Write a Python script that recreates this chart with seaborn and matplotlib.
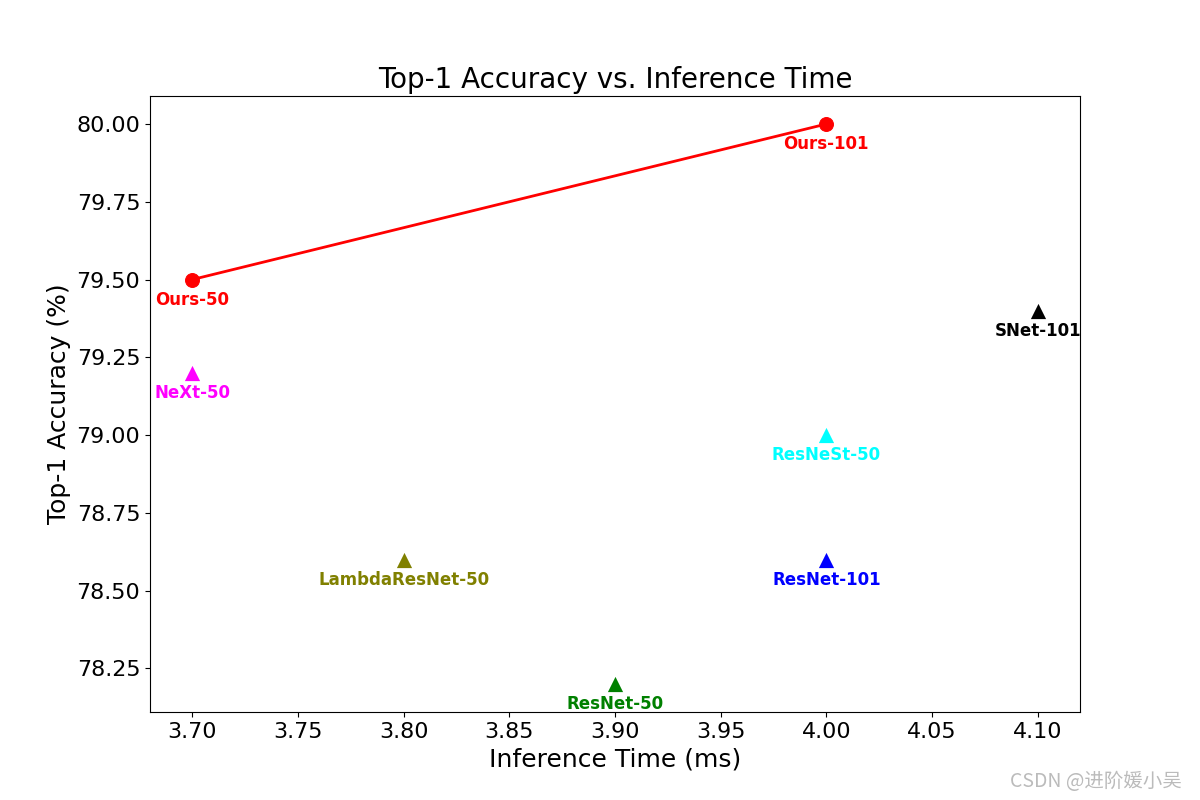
import matplotlib
matplotlib.use("Agg")
import matplotlib.pyplot as plt
import seaborn as sns
import pandas as pd

# Our models (line)
ours_names = ["Ours-50", "Ours-101"]
ours_time = [3.70, 4.00]
ours_acc = [79.5, 80.0]

# Other models (triangles)
other_names = ["NeXt-50", "ResNeSt-50", "SNet-101", "LambdaResNet-50", "ResNet-101", "ResNet-50"]
other_time = [3.70, 4.00, 4.10, 3.80, 4.00, 3.90]
other_acc = [79.2, 79.0, 79.4, 78.6, 78.6, 78.2]
other_colors = ["magenta", "cyan", "black", "olive", "blue", "green"]

ours_df = pd.DataFrame({"time": ours_time, "acc": ours_acc, "name": ours_names})
other_df = pd.DataFrame({"time": other_time, "acc": other_acc, "name": other_names})

fig, ax = plt.subplots(figsize=(12, 8), dpi=100)

sns.lineplot(data=ours_df, x="time", y="acc", color="red", linewidth=2,
             marker="o", markersize=10, markeredgecolor="red", ax=ax)
for n, c in zip(other_names, other_colors):
    sub = other_df[other_df["name"] == n]
    sns.scatterplot(data=sub, x="time", y="acc", color=c, marker="^", s=120,
                    edgecolor=c, linewidth=0, ax=ax)

for x, y, n in zip(ours_time, ours_acc, ours_names):
    ax.annotate(n, (x, y), xytext=(0, -14.5), textcoords="offset points",
                ha="center", va="center", fontsize=12, fontweight="bold", color="red")
for x, y, n, c in zip(other_time, other_acc, other_names, other_colors):
    ax.annotate(n, (x, y), xytext=(0, -14.5), textcoords="offset points",
                ha="center", va="center", fontsize=12, fontweight="bold", color=c)

ax.set_title("Top-1 Accuracy vs. Inference Time", fontsize=20)
ax.set_xlabel("Inference Time (ms)", fontsize=18)
ax.set_ylabel("Top-1 Accuracy (%)", fontsize=18)
ax.tick_params(labelsize=16)
xt = [3.70, 3.75, 3.80, 3.85, 3.90, 3.95, 4.00, 4.05, 4.10]
yt = [78.25, 78.5, 78.75, 79.0, 79.25, 79.5, 79.75, 80.0]
ax.set_xticks(xt)
ax.set_xticklabels([f"{v:.2f}" for v in xt])
ax.set_yticks(yt)
ax.set_yticklabels([f"{v:.2f}" for v in yt])
ax.set_xlim(3.68, 4.12)
ax.set_ylim(78.11, 80.09)
if ax.get_legend():
    ax.get_legend().remove()

fig.text(0.985, 0.01, "CSDN @进阶媛小吴", ha="right", va="bottom", fontsize=14,
         color="#bbbbbb", family=["Noto Sans CJK SC", "DejaVu Sans"])

fig.savefig("out.png", dpi=100)
